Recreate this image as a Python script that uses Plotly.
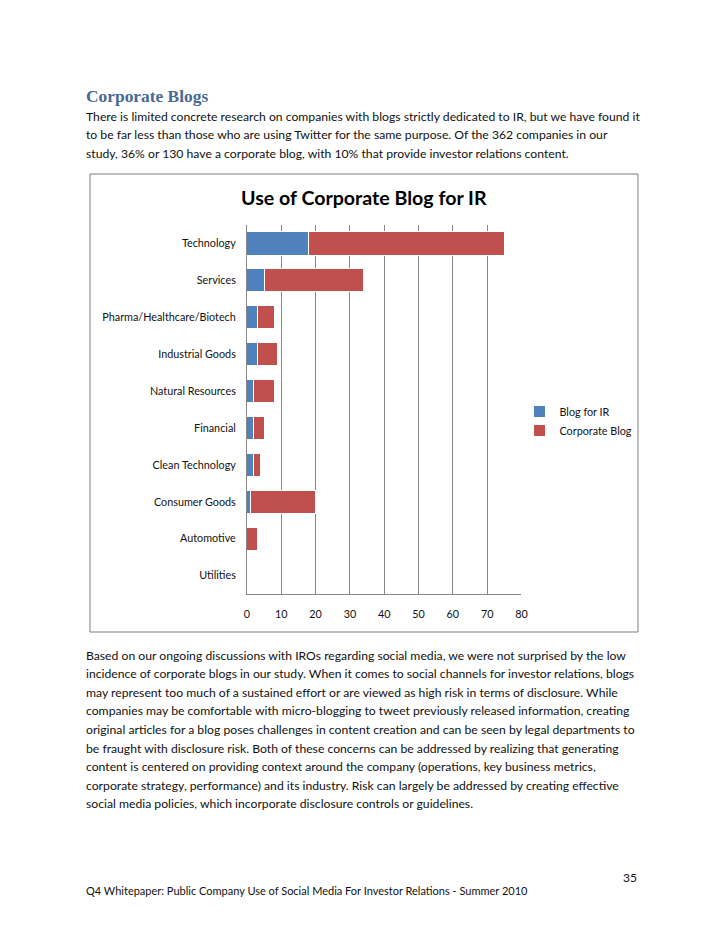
import plotly.graph_objects as go

categories = ["Technology", "Services", "Pharma/Healthcare/Biotech", "Industrial Goods",
              "Natural Resources", "Financial", "Clean Technology", "Consumer Goods",
              "Automotive", "Utilities"]
blog_for_ir = [18, 5, 3, 3, 2, 2, 2, 1, 0, 0]
corporate_blog = [57, 29, 5, 6, 6, 3, 2, 19, 3, 0]
x_ticks = [0, 10, 20, 30, 40, 50, 60, 70, 80]

OFF = 8  # page body margin in the browser
W, H = 728 - 2 * OFF, 942 - 2 * OFF
BLUE = "#4F81BD"
RED = "#C0504D"
BODY_FONT = "Lato"
TEXT_COL = "#111111"

fig = go.Figure()
fig.add_trace(go.Bar(y=categories, x=blog_for_ir, orientation="h", name="Blog for IR",
                     marker=dict(color=BLUE, line=dict(color="white", width=1))))
fig.add_trace(go.Bar(y=categories, x=corporate_blog, orientation="h", name="Corporate Blog",
                     marker=dict(color=RED, line=dict(color="white", width=1))))

def px(xp):
    return (xp - OFF) / W

def py(yp):
    return 1 - (yp - OFF) / H

fig.update_layout(
    width=W, height=H,
    margin=dict(l=0, r=0, t=0, b=0),
    paper_bgcolor="white", plot_bgcolor="white",
    barmode="stack", bargap=0.37,
    showlegend=True,
    legend=dict(x=px(523), y=py(397), xanchor="left", yanchor="top",
                font=dict(family=BODY_FONT, size=10.8, color=TEXT_COL),
                tracegroupgap=0, itemwidth=30, bgcolor="rgba(0,0,0,0)",
                traceorder="normal"),
    xaxis=dict(domain=[px(247), px(525)], range=[0, 80], tickvals=x_ticks,
               showgrid=True, gridcolor="#868686", gridwidth=1,
               showline=True, linecolor="#868686", linewidth=1,
               zeroline=False, ticks="", ticklabelstandoff=10,
               tickfont=dict(family=BODY_FONT, size=10.8, color=TEXT_COL), fixedrange=True),
    yaxis=dict(domain=[py(594), py(225)], autorange="reversed",
               showgrid=False, showline=True, linecolor="#868686", linewidth=1,
               ticks="", ticklabelstandoff=8,
               tickfont=dict(family=BODY_FONT, size=10.8, color=TEXT_COL), fixedrange=True),
)

# chart border box
fig.add_shape(type="rect", xref="paper", yref="paper",
              x0=px(88), x1=px(643), y0=py(632), y1=py(174),
              line=dict(color="#7f7f7f", width=1), fillcolor="rgba(0,0,0,0)")

ann = []
ann.append(dict(text="<b>Use of Corporate Blog for IR</b>", x=px(366), y=py(197),
                xanchor="center", yanchor="middle",
                font=dict(family=BODY_FONT, size=19.6, color="#000000")))
ann.append(dict(text="<b>Corporate Blogs</b>", x=px(82), y=py(96), xanchor="left", yanchor="middle",
                font=dict(family="Liberation Serif", size=17.4, color="#4A6992")))

para1 = ["There is limited concrete research on companies with blogs strictly dedicated to IR, but we have found it",
         "to be far less than those who are using Twitter for the same purpose. Of the 362 companies in our",
         "study, 36% or 130 have a corporate blog, with 10% that provide investor relations content."]
for i, line in enumerate(para1):
    ann.append(dict(text=line, x=px(82), y=py(116 + i * 18.6), xanchor="left", yanchor="middle",
                    font=dict(family=BODY_FONT, size=12.2, color=TEXT_COL)))

para2 = ["Based on our ongoing discussions with IROs regarding social media, we were not surprised by the low",
         "incidence of corporate blogs in our study. When it comes to social channels for investor relations, blogs",
         "may represent too much of a sustained effort or are viewed as high risk in terms of disclosure. While",
         "companies may be comfortable with micro-blogging to tweet previously released information, creating",
         "original articles for a blog poses challenges in content creation and can be seen by legal departments to",
         "be fraught with disclosure risk. Both of these concerns can be addressed by realizing that generating",
         "content is centered on providing context around the company (operations, key business metrics,",
         "corporate strategy, performance) and its industry. Risk can largely be addressed by creating effective",
         "social media policies, which incorporate disclosure controls or guidelines."]
for i, line in enumerate(para2):
    ann.append(dict(text=line, x=px(82), y=py(655 + i * 18.6), xanchor="left", yanchor="middle",
                    font=dict(family=BODY_FONT, size=12.2, color=TEXT_COL)))

ann.append(dict(text="35", x=px(644), y=py(877), xanchor="right", yanchor="middle",
                font=dict(family=BODY_FONT, size=12, color=TEXT_COL)))
ann.append(dict(text="Q4 Whitepaper: Public Company Use of Social Media For Investor Relations - Summer 2010",
                x=px(82), y=py(890), xanchor="left", yanchor="middle",
                font=dict(family=BODY_FONT, size=11, color=TEXT_COL)))

for a in ann:
    a.update(xref="paper", yref="paper", showarrow=False)
fig.update_layout(annotations=ann)

fig.write_html("out.html")
